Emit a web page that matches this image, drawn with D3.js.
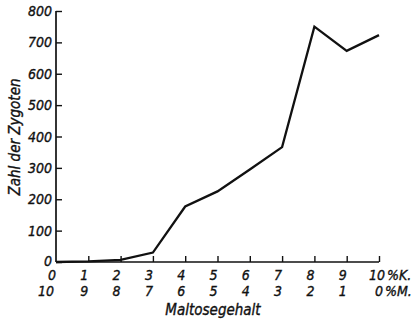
<!DOCTYPE html>
<html>
<head>
<meta charset="utf-8">
<script src="https://cdn.jsdelivr.net/npm/d3@7"></script>
<style>
  html, body { margin: 0; padding: 0; background: #fff; }
  svg { display: block; }
  text { font-family: "DejaVu Sans Condensed", "DejaVu Sans", sans-serif; font-style: italic; fill: #111; stroke: #111; stroke-width: 0.35px; }
</style>
</head>
<body>
<svg id="chart" width="419" height="323"></svg>
<script>
// Maltose share (% K.) with complementary % M., and zygote counts
const kPercent = [0, 1, 2, 3, 4, 5, 6, 7, 8, 9, 10];
const mPercent = [10, 9, 8, 7, 6, 5, 4, 3, 2, 1, 0];
const zygotes  = [0, 2, 7, 30, 177, 225, 295, 366, 750, 673, 723];
const yTicks   = [0, 100, 200, 300, 400, 500, 600, 700, 800];

const svg = d3.select("#chart");
const x = d3.scaleLinear().domain([0, 10]).range([56, 379]);
const y = d3.scaleLinear().domain([0, 800]).range([262, 11]);

const ink = "#111";

// y axis: ticks pointing inward (to the right)
const yAxis = d3.axisRight(y).tickValues(yTicks).tickSize(6).tickFormat("");
const gy = svg.append("g").attr("transform", `translate(${x(0)},0)`).call(yAxis);
gy.select(".domain").attr("d", `M0,${y(0)}V${y(800)}`).attr("stroke", ink).attr("stroke-width", 1.7);
gy.selectAll(".tick line").attr("stroke", ink).attr("stroke-width", 1.4);

svg.append("g").selectAll("text").data(yTicks).join("text")
  .attr("x", 52).attr("y", d => y(d) + (d === 0 ? 4 : 5))
  .attr("text-anchor", "end").attr("font-size", 14)
  .text(d => d);

// x axis: ticks pointing inward (upward)
const xAxis = d3.axisTop(x).tickValues(kPercent.slice(1)).tickSize(6).tickFormat("");
const gx = svg.append("g").attr("transform", `translate(0,${y(0)})`).call(xAxis);
gx.select(".domain").attr("d", `M${x(0)},0H${x(10)}`).attr("stroke", ink).attr("stroke-width", 1.7);
gx.selectAll(".tick line").attr("stroke", ink).attr("stroke-width", 1.4);

// two rows of x labels: % K. and % M.
svg.append("g").selectAll("text").data(kPercent).join("text")
  .attr("x", d => x(d) + (d === 10 ? 6 : 0)).attr("y", 280)
  .attr("text-anchor", "end").attr("font-size", 14)
  .text(d => d);
svg.append("g").selectAll("text").data(kPercent).join("text")
  .attr("x", (d, i) => x(d) + (d === 10 ? 4 : 0) - (mPercent[i] === 10 ? 2 : 0)).attr("y", 296)
  .attr("text-anchor", "end").attr("font-size", 14)
  .text((d, i) => mPercent[i]);
svg.append("text").attr("x", x(10) + 8).attr("y", 280).attr("font-size", 14).text("%K.");
svg.append("text").attr("x", x(10) + 6).attr("y", 296).attr("font-size", 14).text("%M.");

// axis titles
svg.append("text").attr("x", 213).attr("y", 315)
  .attr("text-anchor", "middle").attr("font-size", 15).text("Maltosegehalt");
svg.append("text")
  .attr("transform", `translate(20,137) rotate(-90)`)
  .attr("text-anchor", "middle").attr("font-size", 15).text("Zahl der Zygoten");

// data line
const line = d3.line().x((d, i) => x(kPercent[i])).y(d => y(d));
svg.append("path").datum(zygotes)
  .attr("d", line).attr("fill", "none")
  .attr("stroke", ink).attr("stroke-width", 2.3).attr("stroke-linejoin", "miter");
</script>
</body>
</html>
